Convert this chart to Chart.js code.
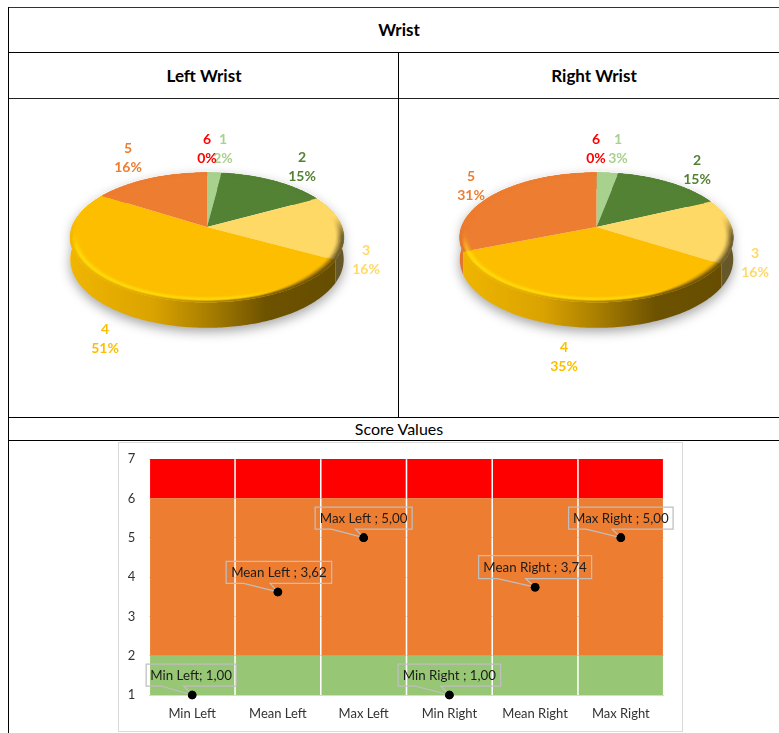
<!DOCTYPE html>
<html>
<head>
<meta charset="utf-8">
<title>Wrist</title>
<script src="https://cdn.jsdelivr.net/npm/chart.js@4"></script>
<style>
  html, body { margin: 0; padding: 0; background: #fff; overflow: hidden; }
  body { width: 779px; height: 733px; position: relative; font-family: Lato, sans-serif; color: #000; }
  .rule { position: absolute; background: #000; }
  .cell { position: absolute; text-align: center; transform: translate(-50%, -50%); white-space: nowrap; }
  .head { font-weight: 700; font-size: 17px; }
  .sub { font-size: 16px; }
  canvas { position: absolute; display: block; }
  #card { position: absolute; left: 118px; top: 442px; width: 563px; height: 288px; border: 1px solid #d9d9d9; }
</style>
</head>
<body>
  <div class="rule" style="left:8px;top:7px;width:771px;height:1px;background:#333"></div>
  <div class="rule" style="left:8px;top:52px;width:771px;height:1px"></div>
  <div class="rule" style="left:8px;top:98px;width:771px;height:1px;background:#222"></div>
  <div class="rule" style="left:8px;top:417px;width:771px;height:1px"></div>
  <div class="rule" style="left:8px;top:440px;width:771px;height:1px"></div>
  <div class="rule" style="left:8px;top:7px;width:1px;height:726px"></div>
  <div class="rule" style="left:398px;top:52px;width:1px;height:366px"></div>

  <div class="cell head" style="left:399px;top:29px">Wrist</div>
  <div class="cell head" style="left:204px;top:75px">Left Wrist</div>
  <div class="cell head" style="left:594px;top:75px">Right Wrist</div>
  <div class="cell sub" style="left:399px;top:428px">Score Values</div>

  <canvas id="pieLeft" width="396" height="325" style="left:9px;top:92px"></canvas>
  <canvas id="pieRight" width="365" height="325" style="left:414px;top:92px"></canvas>
  <div id="card"></div>
  <canvas id="scores" width="564" height="289" style="left:118px;top:442px"></canvas>

<script>
// Score distribution per wrist, in percent
const scoreLabels = ['1', '2', '3', '4', '5', '6'];
const leftWrist = [2, 15, 16, 51, 16, 0];
const rightWrist = [3, 15, 16, 35, 31, 0];
const sliceColors = ['#a9d18e', '#548235', '#ffd966', '#fdbe00', '#ed7d31', '#ff0000'];

// Summary statistics shown over the coloured score bands
const statCategories = ['Min Left', 'Mean Left', 'Max Left', 'Min Right', 'Mean Right', 'Max Right'];
const statValues = [1, 3.62, 5, 1, 3.74, 5];
const statTexts = ['Min Left; 1,00', 'Mean Left ; 3,62', 'Max Left ; 5,00', 'Min Right ; 1,00', 'Mean Right ; 3,74', 'Max Right ; 5,00'];
const greenBand = [2, 2, 2, 2, 2, 2];
const orangeBand = [4, 4, 4, 4, 4, 4];
const redBand = [1, 1, 1, 1, 1, 1];
const yTicks = [1, 2, 3, 4, 5, 6, 7];

// Label placement around each pie, relative to its centre
const leftLabelOffsets = [[16, -88], [95, -70], [159, 23], [-102, 102], [-79, -79], [0, -88]];
const rightLabelOffsets = [[21.5, -88], [100.5, -67], [158.5, 26], [-32.5, 120], [-125.5, -51], [-0.5, -88]];

// Callout placement: box centre offset from its point, and box size
const calloutBoxes = [
  { dx: -1, dy: -20, w: 90, h: 22 },
  { dx: 1, dy: -19.5, w: 105.5, h: 22 },
  { dx: 0, dy: -19.5, w: 97, h: 22 },
  { dx: 0, dy: -20, w: 102.5, h: 22 },
  { dx: 0, dy: -20, w: 113, h: 23 },
  { dx: 0, dy: -19.5, w: 104.5, h: 22 }
];

const hexRgb = h => [1, 3, 5].map(i => parseInt(h.substr(i, 2), 16));
const mix = (a, b, t) => a.map((c, i) => c + (b[i] - c) * t);
const css = c => `rgb(${c.map(Math.round).join(',')})`;
const smooth = (lo, hi, x) => { const t = Math.min(1, Math.max(0, (x - lo) / (hi - lo))); return t * t * (3 - 2 * t); };

// Perspective of the tilted disc: the far half is foreshortened
const persp = 0.161, flatten = 63.2, wallDepth = 21, wallGrow = 4.5;
function project(el, a, rho) {
  const u = rho * Math.cos(a), v = rho * Math.sin(a), w = 1 - persp * v;
  return [el.x + el.outerRadius * u / w, el.y + flatten * v / w];
}
const wallDrop = a => wallDepth + wallGrow * Math.sin(a);

// Brightness of the side wall, lit from the left
const wallLight = [[0, .95], [.16, .9], [.3, .86], [.5, .67], [.72, .43], [1, .4]];
function wallShade(t) {
  for (let i = 1; i < wallLight.length; i++) {
    if (t <= wallLight[i][0]) {
      const [t0, l0] = wallLight[i - 1], [t1, l1] = wallLight[i];
      return l0 + (l1 - l0) * (t - t0) / (t1 - t0);
    }
  }
  return wallLight[wallLight.length - 1][1];
}

function eachStep(el, fn) {
  const step = Math.PI / 180;
  for (let a = el.startAngle; a < el.endAngle - 1e-6; a += step) {
    fn(a, Math.min(a + step, el.endAngle));
  }
}
function polygon(ctx, pts, fill) {
  ctx.beginPath();
  pts.forEach((p, i) => i ? ctx.lineTo(p[0], p[1]) : ctx.moveTo(p[0], p[1]));
  ctx.closePath();
  ctx.fillStyle = fill;
  ctx.fill();
}

// Rounded shoulder of the disc: face colour, then a glint, then the wall colour
const bevelStart = .935;
const bevelRings = [.935, .945, .955, .965, .975, .985, 1];
function bevelColor(base, a, r) {
  const u = Math.cos(a), v = Math.sin(a), t = (u + 1) / 2;
  const wall = base.map(x => x * wallShade(t));
  const glint = (1 - smooth(.55, .78, t)) * smooth(.05, .45, v) * (r < .5 ? r / .5 : (1 - r) / .5);
  const rampFrom = .55 * (1 - smooth(.65, .9, t));
  const toWall = smooth(rampFrom, 1, r) * smooth(-.2, .2, v);
  return mix(mix(base, [255, 232, 20], .75 * glint), wall, toWall);
}

const solidDisc = {
  id: 'solidDisc',
  beforeDatasetDraw(chart, args) {
    const { ctx } = chart;
    const arcs = chart.getDatasetMeta(args.index).data;
    const colors = chart.data.datasets[args.index].backgroundColor;
    const c = arcs[0];

    // soft shadow under the whole disc
    ctx.save();
    ctx.shadowColor = 'rgba(0,0,0,.36)';
    ctx.shadowBlur = 12;
    ctx.shadowOffsetY = 5;
    const rimPath = [];
    for (let d = 0; d < 360; d += 2) {
      const a = d * Math.PI / 180, p = project(c, a, 1);
      rimPath.push([p[0], p[1] + (Math.sin(a) > 0 ? wallDrop(a) : 0) - 1]);
    }
    polygon(ctx, rimPath, '#fff');
    ctx.restore();

    // side wall, shaded across the width of the disc
    arcs.forEach((el, i) => {
      if (el.endAngle - el.startAngle < 1e-6) return;
      const base = hexRgb(colors[i]);
      const grad = ctx.createLinearGradient(el.x - el.outerRadius, 0, el.x + el.outerRadius, 0);
      wallLight.forEach(([t, l]) => grad.addColorStop(t, css(base.map(x => x * l))));
      const top = [], bottom = [];
      eachStep(el, a0 => {
        const p = project(el, a0, 1);
        top.push(p);
        bottom.unshift([p[0], p[1] + wallDrop(a0)]);
      });
      const pe = project(el, el.endAngle, 1);
      top.push(pe);
      bottom.unshift([pe[0], pe[1] + wallDrop(el.endAngle)]);
      polygon(ctx, top.concat(bottom), grad);
    });

    // top face
    arcs.forEach((el, i) => {
      if (el.endAngle - el.startAngle < 1e-6) return;
      const pts = [[el.x, el.y]];
      eachStep(el, a0 => pts.push(project(el, a0, 1)));
      pts.push(project(el, el.endAngle, 1));
      polygon(ctx, pts, colors[i]);
    });

    // shoulder rings around the rim
    ctx.lineWidth = .5;
    arcs.forEach((el, i) => {
      const base = hexRgb(colors[i]);
      eachStep(el, (a0, a1) => {
        const m = (a0 + a1) / 2;
        for (let k = 0; k < bevelRings.length - 1; k++) {
          const r0 = bevelRings[k], r1 = bevelRings[k + 1];
          const color = css(bevelColor(base, m, ((r0 + r1) / 2 - bevelStart) / (1 - bevelStart)));
          ctx.strokeStyle = color;
          polygon(ctx, [project(el, a0, r0), project(el, a1, r0), project(el, a1, r1), project(el, a0, r1)], color);
          ctx.stroke();
        }
      });
    });

    return false;
  },
  // slice labels; later slices are painted over earlier ones
  afterDatasetsDraw(chart, args, opts) {
    const { ctx } = chart;
    const arcs = chart.getDatasetMeta(0).data;
    const ds = chart.data.datasets[0];
    const c = arcs[0];
    ctx.save();
    ctx.font = '700 14px Lato, sans-serif';
    ctx.textAlign = 'center';
    ctx.textBaseline = 'middle';
    chart.data.labels.forEach((label, i) => {
      const [dx, dy] = opts.offsets[i];
      ctx.fillStyle = ds.backgroundColor[i];
      ctx.fillText(label, c.x + dx, c.y + dy);
      ctx.fillText(ds.data[i] + '%', c.x + dx, c.y + dy + 19);
    });
    ctx.restore();
  }
};

function makePie(id, values, offsets) {
  return new Chart(document.getElementById(id), {
    type: 'pie',
    plugins: [solidDisc],
    data: {
      labels: scoreLabels,
      datasets: [{ data: values, backgroundColor: sliceColors, borderWidth: 0, hoverBorderWidth: 0 }]
    },
    options: {
      responsive: false,
      animation: false,
      events: [],
      layout: { padding: { bottom: 55 } },
      plugins: { legend: { display: false }, tooltip: { enabled: false }, solidDisc: { offsets } }
    }
  });
}
makePie('pieLeft', leftWrist, leftLabelOffsets);
makePie('pieRight', rightWrist, rightLabelOffsets);

// Speech-bubble labels pointing at each statistic
const callouts = {
  id: 'callouts',
  afterDatasetsDraw(chart) {
    const { ctx } = chart;
    const pts = chart.getDatasetMeta(3).data;
    ctx.save();
    ctx.font = '13.3px Lato, sans-serif';
    ctx.textAlign = 'center';
    ctx.textBaseline = 'middle';
    pts.forEach((pt, i) => {
      const b = calloutBoxes[i];
      const x = pt.x + b.dx - b.w / 2, y = pt.y + b.dy - b.h / 2;
      ctx.beginPath();
      ctx.moveTo(x, y);
      ctx.lineTo(x + b.w, y);
      ctx.lineTo(x + b.w, y + b.h);
      ctx.lineTo(x + b.w * 5 / 12, y + b.h);
      ctx.lineTo(pt.x, pt.y);
      ctx.lineTo(x + b.w / 6, y + b.h);
      ctx.lineTo(x, y + b.h);
      ctx.closePath();
      ctx.strokeStyle = '#bfbfbf';
      ctx.lineWidth = 1.25;
      ctx.stroke();
      ctx.fillStyle = '#1c1c1c';
      ctx.fillText(statTexts[i], x + b.w / 2, y + b.h / 2 + .5);
    });
    // the markers stay above the callout tails
    pts.forEach(pt => pt.draw(ctx));
    ctx.restore();
  }
};

new Chart(document.getElementById('scores'), {
  type: 'bar',
  plugins: [callouts],
  data: {
    labels: statCategories,
    datasets: [
      { label: 'Low', data: greenBand, backgroundColor: '#97c774', order: 2, barPercentage: .982, categoryPercentage: 1 },
      { label: 'Medium', data: orangeBand, backgroundColor: '#ed7d31', order: 2, barPercentage: .982, categoryPercentage: 1 },
      { label: 'High', data: redBand, backgroundColor: '#ff0000', order: 2, barPercentage: .982, categoryPercentage: 1 },
      { label: 'Score', type: 'line', data: statValues, showLine: false, clip: false, order: 1,
        pointRadius: 4.3, pointBackgroundColor: '#000', pointBorderWidth: 0 }
    ]
  },
  options: {
    responsive: false,
    animation: false,
    events: [],
    layout: { padding: { top: 17, right: 18.3 } },
    plugins: { legend: { display: false }, tooltip: { enabled: false } },
    scales: {
      x: {
        stacked: true,
        grid: { display: false },
        border: { color: '#d9d9d9' },
        ticks: { color: '#333', font: { family: 'Lato, sans-serif', size: 13 }, maxRotation: 0, padding: 3 },
        afterFit: s => { s.height = 36; }
      },
      y: {
        stacked: true,
        min: 1,
        max: 7,
        afterBuildTicks: s => { s.ticks = yTicks.map(value => ({ value })); },
        grid: { color: '#dcdcdc', drawTicks: false },
        border: { display: false },
        ticks: { color: '#333', font: { family: 'Lato, sans-serif', size: 13 }, padding: 14 },
        afterFit: s => { s.width = 31.3; s.paddingTop = 0; s.paddingBottom = 0; }
      }
    }
  }
});
</script>
</body>
</html>
